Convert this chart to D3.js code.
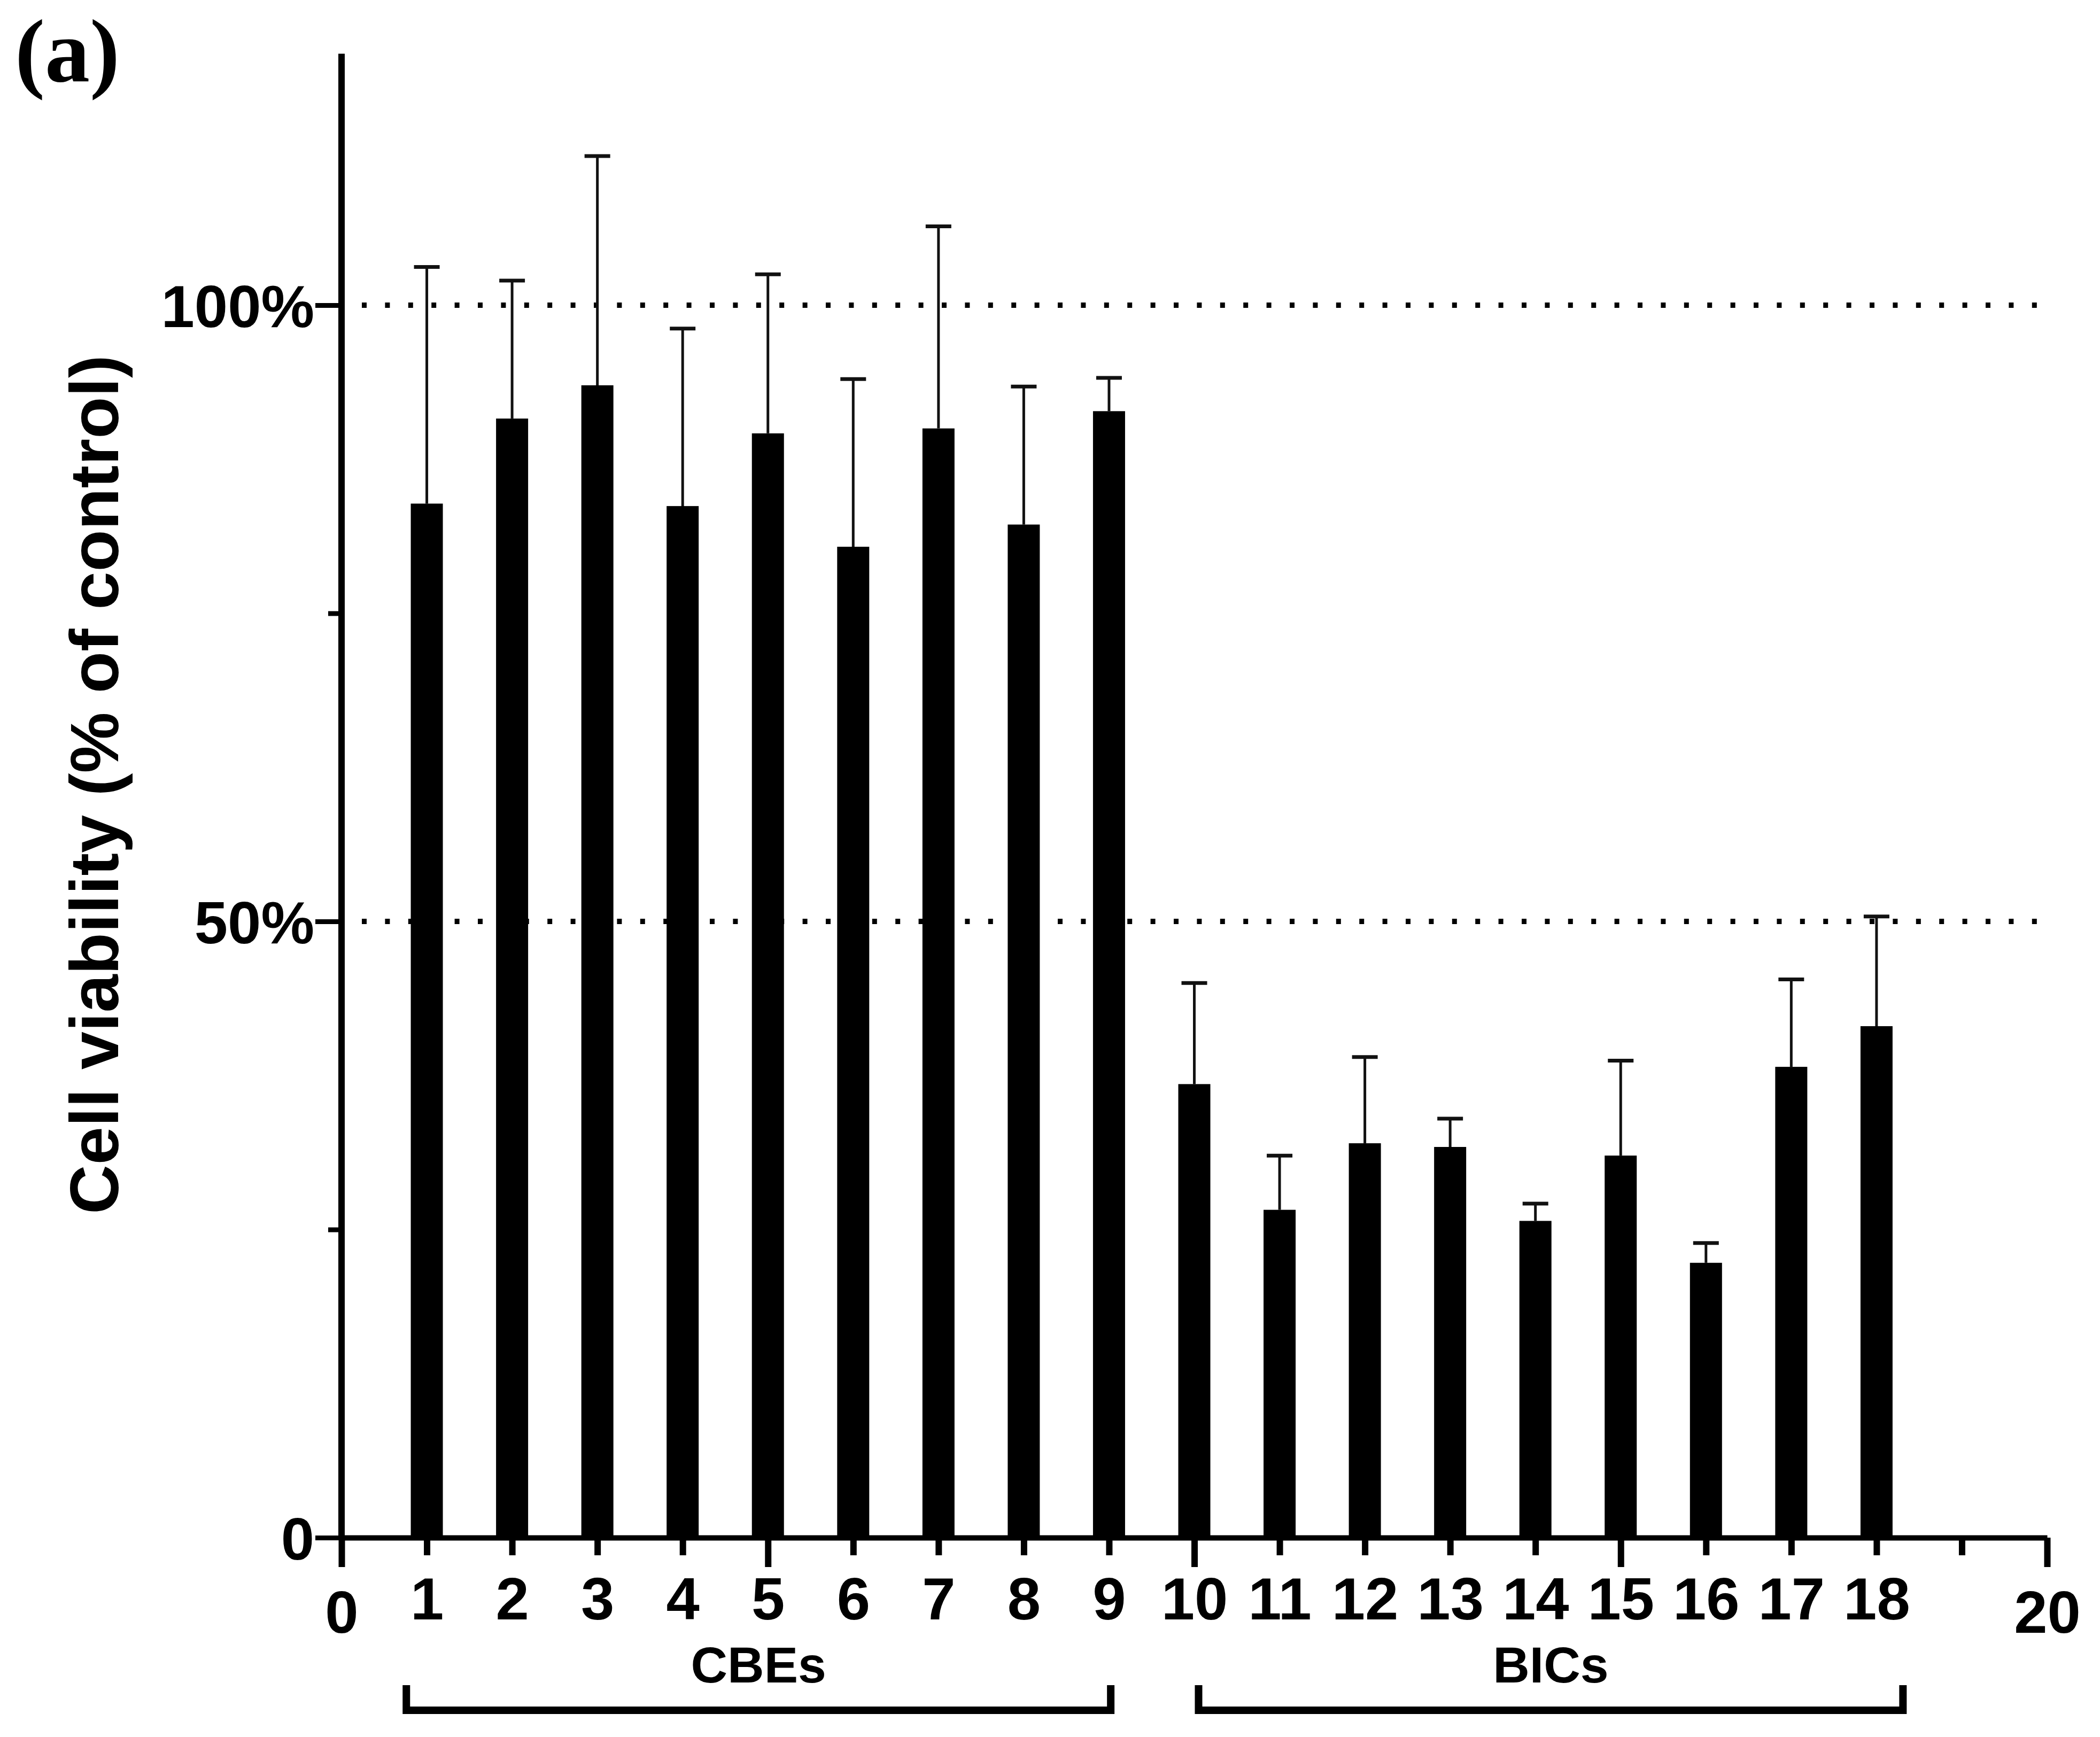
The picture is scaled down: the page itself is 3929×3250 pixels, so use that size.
<!DOCTYPE html>
<html lang="en">
<head>
    <meta charset="UTF-8">
    <script src="https://cdnjs.cloudflare.com/ajax/libs/d3/7.8.5/d3.min.js"></script>
    <style>
body {
  margin: 0;
  background: white;
}
.axis path,
.axis line {
  fill: none;
  stroke: #000;
}
.axis text {
  font-family: "Liberation Sans", Arial, sans-serif;
  font-weight: bold;
  fill: #000;
}
    </style>
    <title>Cell viability</title>
</head>
<body>
    <script>
// compound number on the x axis
var compounds = [1, 2, 3, 4, 5, 6, 7, 8, 9, 10, 11, 12, 13, 14, 15, 16, 17, 18];
// mean viability (% of control)
var viability = [83.9, 90.8, 93.5, 83.7, 89.6, 80.4, 90.0, 82.2, 91.4,
                 36.8, 26.6, 32.0, 31.7, 25.7, 31.0, 22.3, 38.2, 41.5];
// upper error (SD)
var sd = [19.2, 11.2, 18.6, 14.4, 12.9, 13.6, 16.4, 11.2, 2.7,
          8.2, 4.4, 7.0, 2.3, 1.4, 7.7, 1.6, 7.1, 8.9];
var xTicks = d3.range(0, 21);
var xMajor = [0, 5, 10, 15, 20];
var yTicks = [0, 25, 50, 75, 100];
var yLabels = {0: "0", 50: "50%", 100: "100%"};
var refLines = [50, 100];
var groupNames = ["CBEs", "BICs"];
var groupFrom = [0.76, 10.05];
var groupTo = [9.02, 18.31];

var W = 3929, H = 3250;

var x = d3.scaleLinear().domain([0, 20]).range([639, 3830]);
var y = d3.scaleLinear().domain([0, 100]).range([2877, 571]);

var svg = d3.select("body").append("svg")
    .attr("width", W)
    .attr("height", H);

// panel letter
svg.append("text")
    .attr("x", 28)
    .attr("y", 152)
    .style("font-family", "'Liberation Serif', 'Times New Roman', serif")
    .style("font-weight", "bold")
    .style("font-size", "168px")
    .text("(a)");

// dotted reference lines
svg.selectAll(".ref")
    .data(refLines)
    .enter().append("line")
    .attr("class", "ref")
    .attr("x1", x(0) + 38)
    .attr("x2", x(19.9))
    .attr("y1", d => y(d))
    .attr("y2", d => y(d))
    .attr("stroke", "#000")
    .attr("stroke-width", 10)
    .attr("stroke-dasharray", "9 34.4");

var bw = 60;

// error bars
var err = svg.selectAll(".err")
    .data(compounds)
    .enter().append("g")
    .attr("class", "err");

err.append("line")
    .attr("x1", (d) => x(d))
    .attr("x2", (d) => x(d))
    .attr("y1", (d, i) => y(viability[i]))
    .attr("y2", (d, i) => y(viability[i] + sd[i]))
    .attr("stroke", "#111")
    .attr("stroke-width", 5);

err.append("line")
    .attr("x1", (d) => x(d) - 24)
    .attr("x2", (d) => x(d) + 24)
    .attr("y1", (d, i) => y(viability[i] + sd[i]))
    .attr("y2", (d, i) => y(viability[i] + sd[i]))
    .attr("stroke", "#111")
    .attr("stroke-width", 7);

// bars
svg.selectAll(".bar")
    .data(compounds)
    .enter().append("rect")
    .attr("class", "bar")
    .attr("x", d => x(d) - bw / 2)
    .attr("width", bw)
    .attr("y", (d, i) => y(viability[i]))
    .attr("height", (d, i) => y(0) - y(viability[i]))
    .attr("fill", "#000");

// x axis
var xAxis = d3.axisBottom(x)
    .tickValues(xTicks)
    .tickSize(33)
    .tickSizeOuter(0)
    .tickPadding(0)
    .tickFormat(d => (d === 19 ? "" : d));

var gx = svg.append("g")
    .attr("class", "x axis")
    .attr("transform", "translate(0," + y(0) + ")")
    .call(xAxis);

gx.select(".domain").attr("stroke-width", 10);
gx.selectAll(".tick line")
    .attr("stroke-width", 12)
    .attr("y2", d => (xMajor.indexOf(d) >= 0 ? 55 : 33));
gx.selectAll(".tick text")
    .style("font-size", "112px")
    .attr("dy", null)
    .attr("y", d => (d === 0 || d === 20 ? 178 : 153));

// y axis
var yAxis = d3.axisLeft(y)
    .tickValues(yTicks)
    .tickSize(49)
    .tickSizeOuter(0)
    .tickPadding(0)
    .tickFormat(d => yLabels[d] || "");

var gy = svg.append("g")
    .attr("class", "y axis")
    .attr("transform", "translate(" + x(0) + ",0)")
    .call(yAxis);

gy.select(".domain")
    .attr("d", "M0," + y(0) + "V" + y(120.4))
    .attr("stroke-width", 12);
gy.selectAll(".tick line")
    .attr("stroke-width", 9)
    .attr("x2", d => (yLabels[d] ? -49 : -25));
gy.selectAll(".tick text")
    .style("font-size", "112px")
    .attr("x", -51)
    .attr("dy", "0.36em");

// y title
svg.append("text")
    .attr("transform", "translate(221,1468) rotate(-90)")
    .attr("text-anchor", "middle")
    .style("font-family", "'Liberation Sans', Arial, sans-serif")
    .style("font-weight", "bold")
    .style("font-size", "128px")
    .text("Cell viability (% of control)");

// group brackets
var groups = svg.selectAll(".group")
    .data(groupNames)
    .enter().append("g")
    .attr("class", "group");

groups.append("path")
    .attr("d", (d, i) => "M" + x(groupFrom[i]) + ",3153V3200H" + x(groupTo[i]) + "V3153")
    .attr("fill", "none")
    .attr("stroke", "#000")
    .attr("stroke-width", 14);

groups.append("text")
    .attr("x", (d, i) => (x(groupFrom[i]) + x(groupTo[i])) / 2)
    .attr("y", 3148)
    .attr("text-anchor", "middle")
    .style("font-family", "'Liberation Sans', Arial, sans-serif")
    .style("font-weight", "bold")
    .style("font-size", "95px")
    .text(d => d);
    </script>
</body>
</html>
